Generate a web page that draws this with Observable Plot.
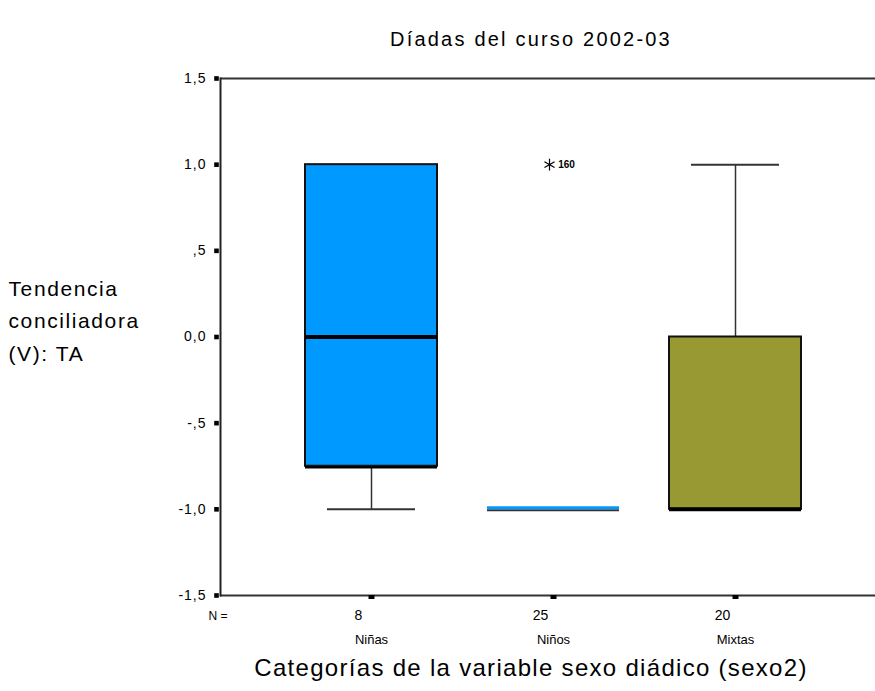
<!DOCTYPE html>
<html>
<head>
<meta charset="utf-8">
<script src="https://cdn.jsdelivr.net/npm/d3@7"></script>
<script src="https://cdn.jsdelivr.net/npm/@observablehq/plot@0.6"></script>
<style>
  body { margin: 0; background: #fff; }
  svg { font-family: Arial, "Liberation Sans", sans-serif; }
</style>
</head>
<body>
<div id="chart"></div>
<script>
const categories = ["Niñas", "Niños", "Mixtas"];
const counts = [8, 25, 20];
const whiskerLow = [-1, -1, -1];
const q1 = [-0.75, -1, -1];
const median = [0, -1, -1];
const q3 = [1, -1, 0];
const whiskerHigh = [1, -1, 1];
const boxColors = ["#0099ff", "#0099ff", "#999933"];
const outlierCategory = ["Niños"];
const outlierValue = [1];
const outlierCase = ["160"];
const yTicks = [-1.5, -1, -0.5, 0, 0.5, 1, 1.5];
const titleText = "Díadas del curso 2002-03";
const xLabel = "Categorías de la variable sexo diádico (sexo2)";
const yLabel = "Tendencia\nconciliadora\n(V): TA";

const stats = categories.map((c, i) => ({
  cat: c, n: counts[i], lo: whiskerLow[i], q1: q1[i], med: median[i],
  q3: q3[i], hi: whiskerHigh[i], color: boxColors[i]
}));
const outliers = outlierCategory.map((c, i) => ({cat: c, v: outlierValue[i], label: outlierCase[i]}));

const fmt = v => {
  const s = d3.format(".1f")(Math.abs(v)).replace(".", ",");
  const t = s.startsWith("0,") && v !== 0 ? s.slice(1) : s;
  return (v < 0 ? "-" : "") + t;
};

const chart = Plot.plot({
  width: 875,
  height: 691,
  marginLeft: 220,
  marginRight: 0,
  marginTop: 78,
  marginBottom: 96,
  style: {background: "#fff", fontFamily: "Arial, 'Liberation Sans', sans-serif"},
  x: {type: "band", domain: categories, range: [303.5, 802.5], paddingInner: 0.273, paddingOuter: 0},
  y: {domain: [-1.5, 1.5]},
  marks: [
    Plot.ruleY([-1.5, 1.5], {stroke: "#333", strokeWidth: 2}),
    Plot.frame({anchor: "left", stroke: "#222", strokeWidth: 2}),
    Plot.axisY({ticks: yTicks, tickFormat: fmt, tickSize: 0, tickPadding: 14, fontSize: 14, fill: "#000"}),
    Plot.dot(yTicks, {y: d => d, frameAnchor: "left", symbol: "square", r: 2.6, dx: -4, fill: "#000", stroke: "none"}),
    Plot.axisX({tickSize: 4, strokeWidth: 6, stroke: "#000", tickFormat: () => "", label: null}),
    // whiskers
    Plot.ruleX(stats.filter(d => d.hi > d.q3), {x: "cat", y1: "q3", y2: "hi", stroke: "#333", strokeWidth: 1.5}),
    Plot.ruleX(stats.filter(d => d.lo < d.q1), {x: "cat", y1: "q1", y2: "lo", stroke: "#333", strokeWidth: 1.5}),
    Plot.tickY(stats.filter(d => d.hi > d.q3), {x: "cat", y: "hi", stroke: "#333", strokeWidth: 2, insetLeft: 22, insetRight: 22}),
    Plot.tickY(stats.filter(d => d.lo < d.q1), {x: "cat", y: "lo", stroke: "#333", strokeWidth: 2, insetLeft: 22, insetRight: 22}),
    // boxes
    Plot.rectY(stats.filter(d => d.q3 > d.q1), {x: "cat", y1: "q1", y2: "q3", fill: "color", stroke: "#111", strokeWidth: 2}),
    Plot.tickY(stats.filter(d => d.q3 > d.q1 && d.q1 > d.lo), {x: "cat", y: "q1", stroke: "#000", strokeWidth: 2.5, dy: 1}),
    Plot.tickY(stats.filter(d => d.q3 === d.q1), {x: "cat", y: "q1", stroke: "#333", strokeWidth: 2, dy: 1}),
    Plot.tickY(stats.filter(d => d.q3 === d.q1), {x: "cat", y: "q1", stroke: "color", strokeWidth: 3, dy: -1.5}),
    Plot.tickY(stats.filter(d => d.q3 > d.q1), {x: "cat", y: "med", stroke: "#000", strokeWidth: 4}),
    // outliers
    Plot.dot(outliers, {x: "cat", y: "v", symbol: "asterisk", r: 5.5, stroke: "#000", strokeWidth: 1.2, dx: -4}),
    Plot.text(outliers, {x: "cat", y: "v", text: "label", dx: 13, fontSize: 10, fontWeight: "bold", fill: "#000"}),
    // counts and names
    Plot.text(["N ="], {frameAnchor: "bottom-left", text: d => d, dx: -12, dy: 24, fontSize: 12, fill: "#000"}),
    Plot.text(stats, {x: "cat", text: "n", frameAnchor: "bottom", dy: 24, dx: -13, fontSize: 14, fill: "#000"}),
    Plot.text(stats, {x: "cat", text: "cat", frameAnchor: "bottom", dy: 48, fontSize: 13, fill: "#000"}),
    // titles
    Plot.text([titleText], {frameAnchor: "top", text: d => d, dx: -17, dy: -47, fontSize: 20, fill: "#000"}),
    Plot.text([xLabel], {frameAnchor: "bottom", text: d => d, dx: -17, dy: 80, fontSize: 24, fill: "#000"}),
    Plot.text([yLabel], {frameAnchor: "left", text: d => d, dx: -212, dy: -19, textAnchor: "start", fontSize: 21, lineHeight: 1.55, fill: "#000"})
  ]
});
// letter spacing to mimic the wide bitmap font of the original
const spacing = new Map([[titleText, "2.2px"], [xLabel, "1.3px"]]);
d3.select(chart).selectAll("text").each(function() {
  const t = this.textContent;
  if (spacing.has(t)) this.style.letterSpacing = spacing.get(t);
  if (t.startsWith("Tendencia")) this.style.letterSpacing = "1.6px";
  if (yTicks.map(fmt).includes(t)) this.style.letterSpacing = "1px";
});
document.getElementById("chart").appendChild(chart);
</script>
</body>
</html>
